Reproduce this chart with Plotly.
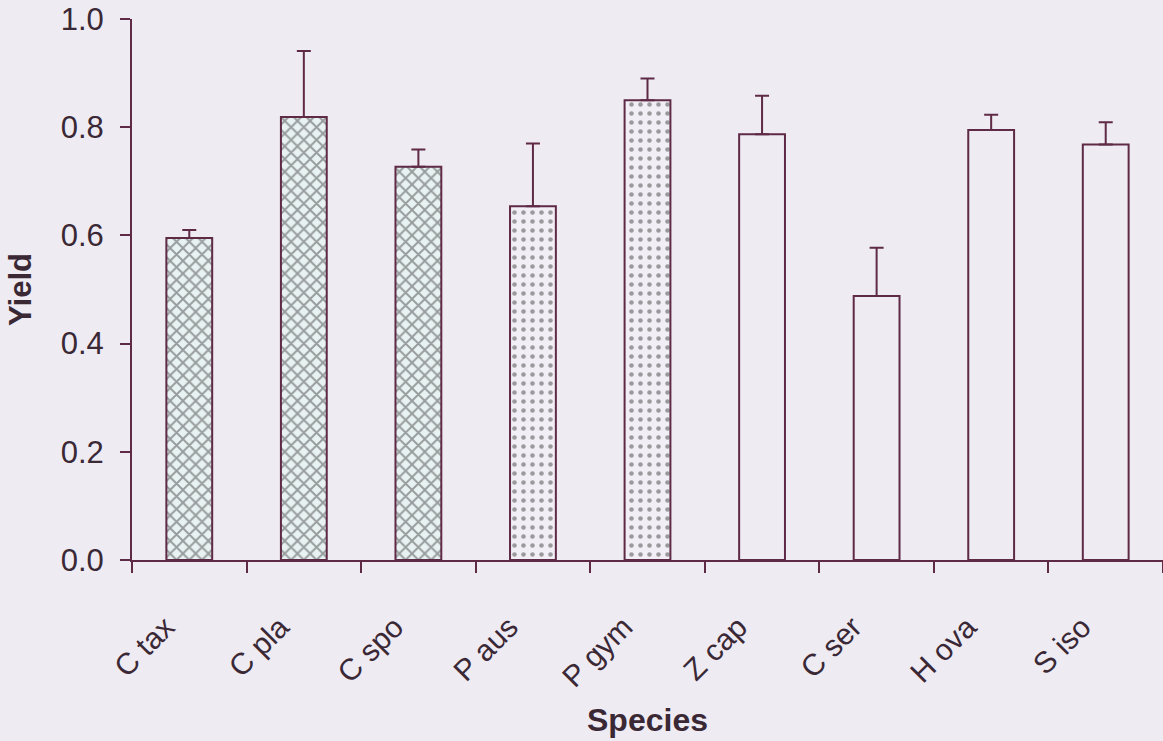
import plotly.graph_objects as go

species = ["C tax", "C pla", "C spo", "P aus", "P gym", "Z cap", "C ser", "H ova", "S iso"]
yield_mean = [0.595, 0.819, 0.727, 0.654, 0.850, 0.787, 0.488, 0.795, 0.768]
yield_err_up = [0.015, 0.122, 0.032, 0.116, 0.040, 0.071, 0.089, 0.028, 0.041]
fill_kind = ["wave", "wave", "wave", "dot", "dot", "open", "open", "open", "open"]

BG = "#eeebf3"
LINE = "#5e2a45"
TEXT = "#3a2835"

shape_map = {"wave": "x", "dot": ".", "open": ""}
bg_map = {"wave": "#e9f2f3", "dot": "#f1eef5", "open": BG}
fg_map = {"wave": "#5a3349", "dot": "#7e4a64", "open": LINE}
size_map = {"wave": 9, "dot": 9, "open": 8}
sol_map = {"wave": 0.38, "dot": 0.2, "open": 0.1}

# pad labels so their rotated end sits slightly left of the category centre
tick_text = [s + "\u00a0" * 4 for s in species]

fig = go.Figure()
fig.add_trace(go.Bar(
    x=species,
    y=yield_mean,
    width=0.4,
    marker=dict(
        color=[bg_map[k] for k in fill_kind],
        line=dict(color=LINE, width=2),
        pattern=dict(
            shape=[shape_map[k] for k in fill_kind],
            fgcolor=[fg_map[k] for k in fill_kind],
            size=[size_map[k] for k in fill_kind],
            solidity=[sol_map[k] for k in fill_kind],
        ),
    ),
    error_y=dict(
        type="data",
        symmetric=False,
        array=yield_err_up,
        arrayminus=[0] * len(species),
        color=LINE,
        thickness=2,
        width=7,
    ),
    showlegend=False,
))

fig.update_layout(
    width=1163,
    height=741,
    margin=dict(l=132, r=0, t=19, b=181),
    paper_bgcolor=BG,
    plot_bgcolor=BG,
    font=dict(family="Liberation Sans, Arial, sans-serif", color=TEXT, size=30),
    bargap=0.6,
)

fig.update_xaxes(
    type="category",
    range=[-0.5, 8.5],
    tickmode="array",
    tickvals=species,
    ticktext=tick_text,
    showline=True,
    linecolor=LINE,
    linewidth=2,
    showgrid=False,
    zeroline=False,
    ticks="outside",
    tickson="boundaries",
    ticklen=11,
    tickwidth=2,
    tickcolor=LINE,
    tickangle=-45,
    tickfont=dict(size=30, color=TEXT),
    ticklabelstandoff=12,
    title=dict(text="<b>Species</b>", font=dict(size=32, color=TEXT), standoff=16),
    automargin=False,
)

fig.update_yaxes(
    range=[0, 1.0],
    tickvals=[0, 0.2, 0.4, 0.6, 0.8, 1.0],
    tickformat=".1f",
    showline=True,
    linecolor=LINE,
    linewidth=2,
    showgrid=False,
    zeroline=False,
    ticks="outside",
    ticklen=10,
    tickwidth=2,
    tickcolor=LINE,
    tickfont=dict(size=31, color=TEXT),
    ticklabelstandoff=10,
    title=dict(text="<b>Yield</b>", font=dict(size=31, color=TEXT), standoff=20),
    automargin=False,
)

fig.write_html(
    "out.html",
    config={"displayModeBar": False},
    post_script="document.body.style.margin='0';document.body.style.background='%s';" % BG,
)
